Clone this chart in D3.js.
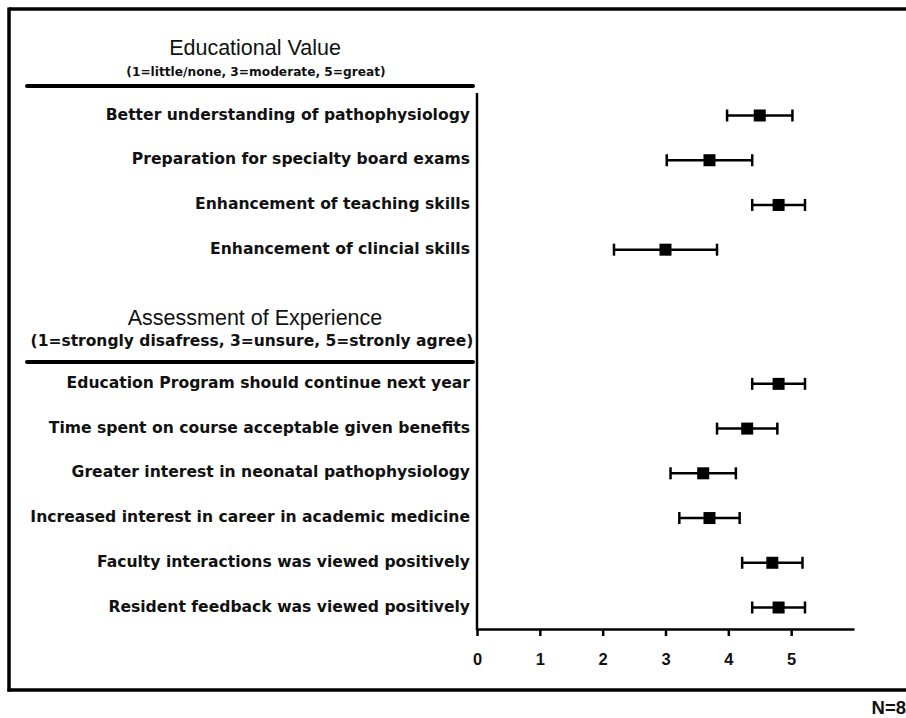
<!DOCTYPE html>
<html>
<head>
<meta charset="utf-8">
<script src="https://cdn.jsdelivr.net/npm/d3@7/dist/d3.min.js"></script>
<style>
  html, body { margin: 0; padding: 0; background: #fff; }
  svg { display: block; }
</style>
</head>
<body>
<svg id="chart" width="906" height="718"></svg>
<script>
// ---- data ----
const sections = [
  { title: "Educational Value", subtitle: "(1=little/none, 3=moderate, 5=great)" },
  { title: "Assessment of Experience", subtitle: "(1=strongly disafress, 3=unsure, 5=stronly agree)" }
];
const categories = [
  "Better understanding of pathophysiology",
  "Preparation for specialty board exams",
  "Enhancement of teaching skills",
  "Enhancement of clincial skills",
  "Education Program should continue next year",
  "Time spent on course acceptable given benefits",
  "Greater interest in neonatal pathophysiology",
  "Increased interest in career in academic medicine",
  "Faculty interactions was viewed positively",
  "Resident feedback was viewed positively"
];
const sectionOf = [0, 0, 0, 0, 1, 1, 1, 1, 1, 1];
const means  = [4.5, 3.7, 4.8, 3.0, 4.8, 4.3, 3.6, 3.7, 4.7, 4.8];
const errors = [0.52, 0.68, 0.42, 0.82, 0.42, 0.48, 0.52, 0.48, 0.48, 0.42];
const xTicks = [0, 1, 2, 3, 4, 5];
const note = "N=8";

// ---- layout ----
const svg = d3.select("#chart");
const gapRows = 2; // empty rows used by the second section header
const rowIndex = categories.map((c, i) => i + sectionOf[i] * gapRows);

const x = d3.scaleLinear().domain([0, 6]).range([477, 854]);
const y = d3.scaleLinear().domain([0, 11]).range([115.5, 607.5]);

// frame
svg.append("line").attr("x1", 9).attr("x2", 906).attr("y1", 9).attr("y2", 9)
  .attr("stroke", "#000").attr("stroke-width", 3.5);
svg.append("line").attr("x1", 9).attr("x2", 9).attr("y1", 7.5).attr("y2", 691.5)
  .attr("stroke", "#000").attr("stroke-width", 3.5);
svg.append("line").attr("x1", 7.5).attr("x2", 906).attr("y1", 690).attr("y2", 690)
  .attr("stroke", "#000").attr("stroke-width", 3.5);

// section headers
const headerY = [{ t: 48, s: 72, l: 86 }, { t: 318, s: 341, l: 362 }];
const subSizes = [12.2, 15.5];
const subX = [256, 252];
sections.forEach((s, i) => {
  svg.append("text").attr("x", 255).attr("y", headerY[i].t)
    .attr("text-anchor", "middle").attr("dominant-baseline", "central")
    .style("font-family", "'Liberation Sans', Arial, sans-serif")
    .style("font-size", "21.5px").style("fill", "#111")
    .text(s.title);
  svg.append("text").attr("x", subX[i]).attr("y", headerY[i].s)
    .attr("text-anchor", "middle").attr("dominant-baseline", "central")
    .style("font-family", "'DejaVu Sans', Verdana, sans-serif")
    .style("font-weight", "bold")
    .style("font-size", subSizes[i] + "px").style("fill", "#111")
    .text(s.subtitle);
  svg.append("line").attr("x1", 27).attr("x2", 473)
    .attr("y1", headerY[i].l).attr("y2", headerY[i].l)
    .attr("stroke", "#000").attr("stroke-width", 4).attr("stroke-linecap", "round");
});

// category labels
svg.append("g").selectAll("text").data(categories).join("text")
  .attr("x", 470).attr("y", (d, i) => y(rowIndex[i]) - 1)
  .attr("text-anchor", "end").attr("dominant-baseline", "central")
  .style("font-family", "'DejaVu Sans', Verdana, sans-serif")
  .style("font-weight", "bold").style("font-size", "15.6px").style("fill", "#111")
  .text(d => d);

// vertical axis line
svg.append("line").attr("x1", x(0)).attr("x2", x(0)).attr("y1", 93).attr("y2", 630)
  .attr("stroke", "#000").attr("stroke-width", 2.5);

// bottom axis
const axisG = svg.append("g").attr("transform", "translate(0,629)")
  .call(d3.axisBottom(x).tickValues(xTicks).tickSize(7).tickSizeOuter(0).tickPadding(17).tickFormat(d3.format("d")));
axisG.select(".domain").attr("stroke", "#000").attr("stroke-width", 2.5);
axisG.selectAll(".tick line").attr("stroke", "#000").attr("stroke-width", 2.5);
axisG.selectAll(".tick text")
  .style("font-family", "'Liberation Sans', Arial, sans-serif")
  .style("font-weight", "bold").style("font-size", "16.5px").style("fill", "#111");

// error bars
const eb = svg.append("g").selectAll("g").data(means).join("g");
eb.append("line")
  .attr("x1", (d, i) => x(d - errors[i])).attr("x2", (d, i) => x(d + errors[i]))
  .attr("y1", (d, i) => y(rowIndex[i])).attr("y2", (d, i) => y(rowIndex[i]))
  .attr("stroke", "#000").attr("stroke-width", 2.5);
[-1, 1].forEach(sign => {
  eb.append("line")
    .attr("x1", (d, i) => x(d + sign * errors[i])).attr("x2", (d, i) => x(d + sign * errors[i]))
    .attr("y1", (d, i) => y(rowIndex[i]) - 6).attr("y2", (d, i) => y(rowIndex[i]) + 6)
    .attr("stroke", "#000").attr("stroke-width", 2.5);
});
eb.append("rect")
  .attr("x", d => x(d) - 6).attr("y", (d, i) => y(rowIndex[i]) - 6)
  .attr("width", 12).attr("height", 12).attr("fill", "#000");

// note
svg.append("text").attr("x", 906).attr("y", 707)
  .attr("text-anchor", "end").attr("dominant-baseline", "central")
  .style("font-family", "'Liberation Sans', Arial, sans-serif")
  .style("font-weight", "bold").style("font-size", "18.5px").style("fill", "#111")
  .text(note);
</script>
</body>
</html>
